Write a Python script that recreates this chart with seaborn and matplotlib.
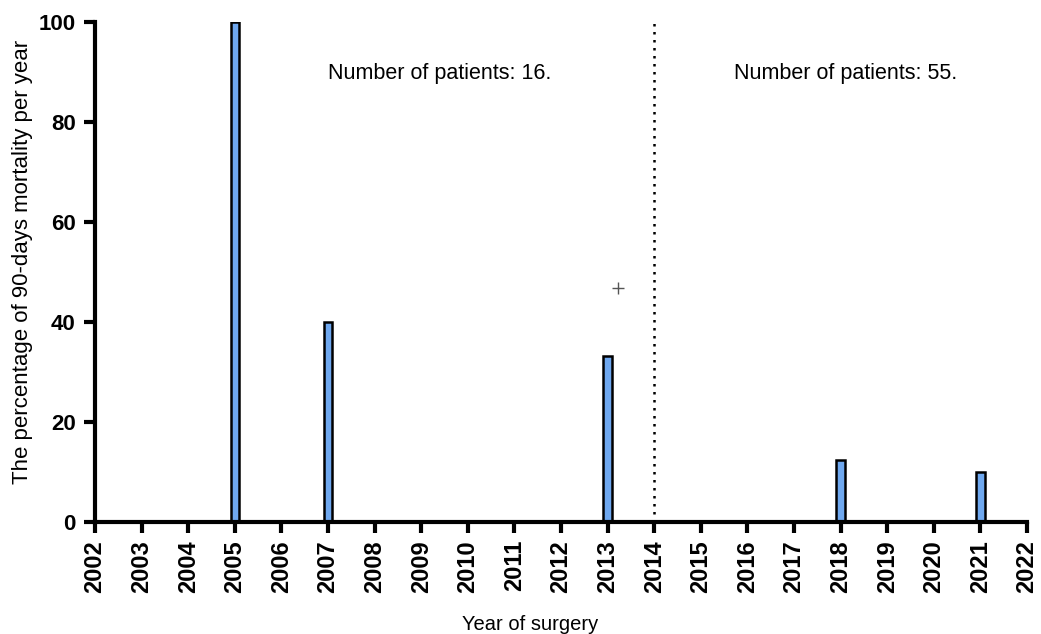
import matplotlib
matplotlib.use("Agg")
import matplotlib.pyplot as plt
import seaborn as sns
import pandas as pd

all_years = [str(y) for y in range(2002, 2023)]
bar_years = ["2005", "2007", "2013", "2018", "2021"]
mortality = [100, 40, 33.3, 12.5, 10]
divider_year = "2014"
annotations = ["Number of patients: 16.", "Number of patients: 55."]
marker_year_pos = 11.22  # position of stray '+' mark (category units)
marker_value = 46.8

sns.set_theme(style="white")
plt.rcParams['font.family'] = ['Liberation Sans', 'DejaVu Sans']
plt.rcParams['text.color'] = 'black'
plt.rcParams['axes.labelcolor'] = 'black'
plt.rcParams['xtick.color'] = 'black'
plt.rcParams['ytick.color'] = 'black'

fig = plt.figure(figsize=(10.41, 6.34), dpi=100)
ax = fig.add_axes([95/1041, 112/634, 932/1041, 500/634])

df = pd.DataFrame({"year": bar_years, "mortality": mortality})
sns.barplot(data=df, x="year", y="mortality", order=all_years, ax=ax,
            color="#6fa8ef", saturation=1, width=0.18,
            edgecolor="black", linewidth=1.8)

div_pos = all_years.index(divider_year)
ax.axvline(div_pos, color="black", linestyle=(0, (1, 2.2)), linewidth=1.8)

ax.text(7.4, 89.8, annotations[0], ha="center", va="center", fontsize=15.5, color="black")
ax.text(16.1, 89.8, annotations[1], ha="center", va="center", fontsize=15.5, color="black")
ax.plot([marker_year_pos], [marker_value], marker="+", color="#555555",
        markersize=9, markeredgewidth=1)

ax.set_xlim(0, 20)
ax.set_ylim(0, 100)
ax.set_yticks([0, 20, 40, 60, 80, 100])
ax.set_xticks(range(len(all_years)))
ax.set_xticklabels(all_years, rotation=90, fontweight="bold", fontsize=17)
for lab in ax.get_yticklabels():
    lab.set_fontweight("bold")
    lab.set_fontsize(16)

for s in ["top", "right"]:
    ax.spines[s].set_visible(False)
for s in ["left", "bottom"]:
    ax.spines[s].set_linewidth(3)
    ax.spines[s].set_color("black")
ax.tick_params(axis="x", which="major", direction="out", length=8, width=3,
               color="black", bottom=True, pad=5)
ax.tick_params(axis="y", which="major", direction="out", length=8, width=3,
               color="black", left=True, pad=6)

ax.set_xlabel("Year of surgery", fontsize=14.5)
ax.set_ylabel("The percentage of 90-days mortality per year", fontsize=16)
ax.xaxis.set_label_coords((530-95)/932, -0.185)
ax.yaxis.set_label_coords(-0.066, 0.52)

fig.savefig("out.png", dpi=100)
